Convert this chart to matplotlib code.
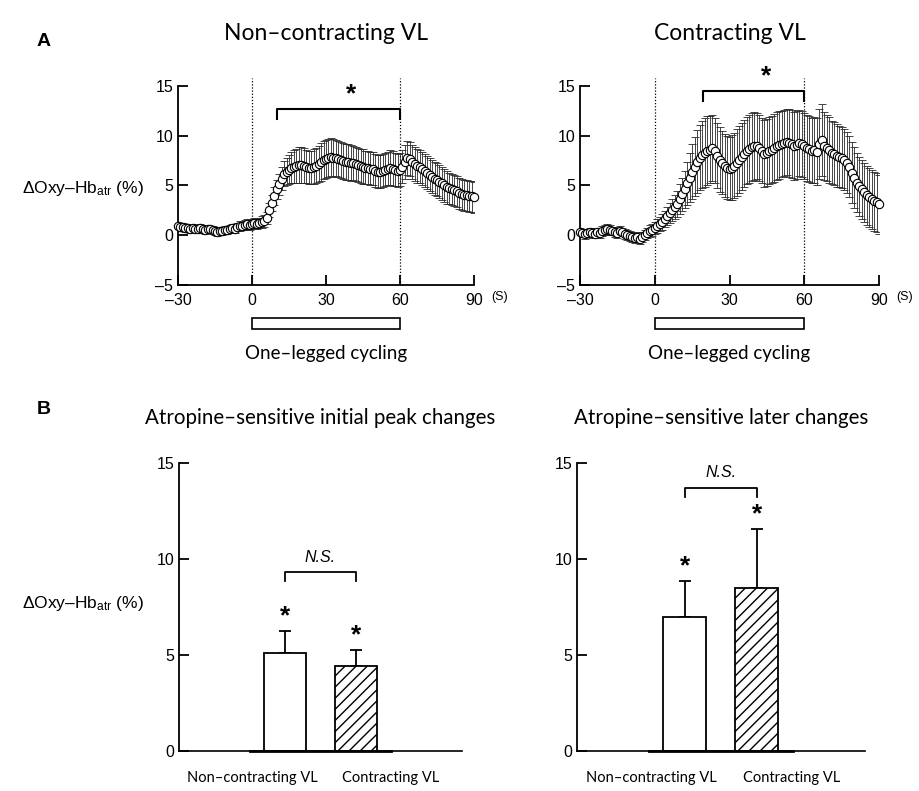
import numpy as np
import matplotlib
matplotlib.use("Agg")
import matplotlib.pyplot as plt
from matplotlib.patches import Rectangle

plt.rcParams['font.family'] = ['Liberation Sans', 'DejaVu Sans']
plt.rcParams['mathtext.fontset'] = 'custom'
plt.rcParams['mathtext.rm'] = 'Liberation Sans'
plt.rcParams['mathtext.it'] = 'Liberation Sans:italic'
plt.rcParams['hatch.linewidth'] = 1.0

# ------------------------------------------
# data
# ------------------------------------------
time_s = np.arange(-30, 91)

noncontr_mean = [
    0.9, 0.8, 0.8, 0.7, 0.7, 0.6, 0.7, 0.6, 0.6, 0.7,
    0.6, 0.5, 0.6, 0.6, 0.5, 0.4, 0.3, 0.4, 0.4, 0.5,
    0.5, 0.6, 0.7, 0.6, 0.8, 0.9, 0.9, 1.0, 1.1, 1.0,
    1.1, 1.2, 1.1, 1.2, 1.3, 1.4, 1.7, 2.5, 3.2, 3.9,
    4.6, 5.1, 5.7, 6.2, 6.4, 6.6, 6.8, 6.9, 7.0, 7.1,
    7.1, 7.0, 6.9, 6.8, 6.8, 6.9, 7.0, 7.2, 7.4, 7.6,
    7.7, 7.8, 7.9, 7.8, 7.8, 7.7, 7.6, 7.5, 7.4, 7.4,
    7.3, 7.3, 7.2, 7.1, 7.0, 6.9, 6.8, 6.8, 6.7, 6.7,
    6.5, 6.4, 6.4, 6.5, 6.6, 6.7, 6.8, 6.7, 6.6, 6.5,
    6.6, 6.9, 7.4, 7.8, 7.7, 7.4, 7.2, 7.0, 6.9, 6.7,
    6.5, 6.3, 6.1, 5.9, 5.7, 5.6, 5.4, 5.2, 5.0, 4.8,
    4.7, 4.6, 4.5, 4.4, 4.2, 4.1, 4.0, 4.0, 3.9, 3.9,
    3.8,
]
noncontr_se = [
    0.4, 0.4, 0.4, 0.4, 0.3, 0.4, 0.4, 0.4, 0.3, 0.4,
    0.4, 0.4, 0.4, 0.3, 0.4, 0.4, 0.4, 0.4, 0.4, 0.4,
    0.4, 0.4, 0.4, 0.4, 0.4, 0.5, 0.4, 0.5, 0.5, 0.5,
    0.5, 0.5, 0.5, 0.5, 0.6, 0.6, 0.6, 0.7, 0.8, 0.9,
    1.0, 1.1, 1.2, 1.3, 1.4, 1.5, 1.6, 1.7, 1.7, 1.8,
    1.8, 1.8, 1.7, 1.7, 1.7, 1.8, 1.8, 1.8, 1.9, 1.9,
    1.9, 1.9, 1.9, 1.9, 1.8, 1.8, 1.8, 1.8, 1.8, 1.8,
    1.8, 1.7, 1.7, 1.7, 1.7, 1.8, 1.7, 1.7, 1.7, 1.7,
    1.7, 1.7, 1.7, 1.7, 1.7, 1.7, 1.8, 1.8, 1.7, 1.7,
    1.7, 1.7, 1.7, 1.7, 1.7, 1.7, 1.7, 1.7, 1.7, 1.7,
    1.7, 1.7, 1.7, 1.7, 1.7, 1.7, 1.7, 1.7, 1.7, 1.7,
    1.6, 1.6, 1.6, 1.6, 1.6, 1.6, 1.6, 1.6, 1.6, 1.6,
    1.6,
]

contr_mean = [
    0.3, 0.2, 0.1, 0.2, 0.3, 0.2, 0.1, 0.3, 0.2, 0.4,
    0.5, 0.6, 0.5, 0.4, 0.3, 0.2, 0.4, 0.3, 0.1, 0.0,
    -0.1, -0.2, -0.3, -0.2, -0.4, -0.2, 0.0, 0.2, 0.4, 0.5,
    0.7, 0.9, 1.1, 1.3, 1.6, 1.9, 2.2, 2.5, 2.8, 3.1,
    3.6, 4.1, 4.6, 5.2, 5.8, 6.4, 6.9, 7.4, 7.8, 8.1,
    8.3, 8.5, 8.6, 8.8, 8.5, 8.0, 7.6, 7.3, 7.0, 6.8,
    6.7, 6.8, 7.0, 7.3, 7.6, 7.9, 8.2, 8.5, 8.7, 8.9,
    9.0, 9.0, 8.8, 8.5, 8.2, 8.3, 8.5, 8.6, 8.8, 9.0,
    9.1, 9.2, 9.3, 9.4, 9.3, 9.2, 9.0, 9.1, 9.3, 9.2,
    9.0, 8.8, 8.7, 8.5, 8.6, 8.4, 9.2, 9.6, 9.0, 8.8,
    8.6, 8.3, 8.2, 8.0, 7.9, 7.8, 7.6, 7.3, 6.9, 6.3,
    5.8, 5.3, 4.9, 4.6, 4.3, 4.0, 3.8, 3.6, 3.4, 3.3,
    3.1,
]
contr_se = [
    0.4, 0.4, 0.5, 0.4, 0.4, 0.5, 0.4, 0.4, 0.5, 0.5,
    0.5, 0.5, 0.5, 0.4, 0.5, 0.5, 0.5, 0.4, 0.5, 0.5,
    0.5, 0.5, 0.5, 0.5, 0.5, 0.5, 0.5, 0.5, 0.6, 0.6,
    0.6, 0.7, 0.7, 0.8, 0.8, 0.9, 1.0, 1.1, 1.2, 1.3,
    1.5, 1.7, 1.9, 2.2, 2.5, 2.8, 3.0, 3.2, 3.3, 3.4,
    3.5, 3.5, 3.4, 3.3, 3.3, 3.3, 3.3, 3.2, 3.2, 3.2,
    3.2, 3.3, 3.3, 3.4, 3.4, 3.4, 3.4, 3.4, 3.4, 3.4,
    3.4, 3.3, 3.3, 3.3, 3.4, 3.4, 3.4, 3.4, 3.4, 3.4,
    3.4, 3.3, 3.3, 3.3, 3.4, 3.4, 3.4, 3.4, 3.3, 3.3,
    3.3, 3.3, 3.3, 3.3, 3.3, 3.4, 3.5, 3.6, 3.4, 3.3,
    3.3, 3.2, 3.2, 3.2, 3.1, 3.1, 3.1, 3.1, 3.1, 3.1,
    3.1, 3.0, 3.0, 3.0, 3.0, 3.0, 3.0, 3.0, 3.0, 3.0,
    3.0,
]

bar_groups = ["Non\u2013contracting VL", "Contracting VL"]
peak_mean = [5.1, 4.45]
peak_se = [1.15, 0.8]
later_mean = [7.0, 8.5]
later_se = [1.85, 3.05]

# ------------------------------------------
# figure
# ------------------------------------------
fig = plt.figure(figsize=(9.19, 7.91), dpi=100)

lato = ['Lato', 'DejaVu Sans']
tick_fs = 11.5
ylab = "\u0394Oxy\u2013Hb$_{\\rm atr}$ (%)"


def style_axes(ax):
    for side in ['top', 'right']:
        ax.spines[side].set_visible(False)
    for side in ['left', 'bottom']:
        ax.spines[side].set_linewidth(1.3)
    ax.tick_params(direction='in', length=7, width=1.3, labelsize=tick_fs)


def time_panel(rect, mean, se, title, bracket_start, bracket_y):
    ax = fig.add_axes(rect)
    style_axes(ax)
    ax.set_xlim(-30, 90)
    ax.set_ylim(-5, 15)
    ax.set_xticks([-30, 0, 30, 60, 90])
    ax.set_xticklabels(["\u201330", "0", "30", "60", "90"])
    ax.set_yticks([-5, 0, 5, 10, 15])
    ax.set_yticklabels(["\u20135", "0", "5", "10", "15"])
    ax.tick_params(axis='x', pad=6)

    for xv in [0, 60]:
        ax.plot([xv, xv], [-5, 15.8], ls=(0, (1, 1.5)), color='black', lw=0.9,
                clip_on=False, zorder=1)

    ax.errorbar(time_s, mean, yerr=se, fmt='none', ecolor='0.15',
                elinewidth=0.6, capsize=3, capthick=0.6, zorder=2)
    ax.plot(time_s, mean, 'o', ms=6, mfc='white', mec='black', mew=0.8,
            zorder=3, clip_on=False)

    # significance bracket
    ax.plot([bracket_start, bracket_start, 60, 60],
            [bracket_y - 1.0, bracket_y, bracket_y, bracket_y - 1.0],
            color='black', lw=1.5, clip_on=False)
    ax.text((bracket_start + 60) / 2 + 5, bracket_y + 0.3, "*", ha='center',
            va='bottom', fontsize=19, fontweight='bold', clip_on=False)

    # cycling bar
    ax.add_patch(Rectangle((0, -9.4), 60, 1.1, fill=False, lw=1.2,
                           clip_on=False))
    ax.text(30, -11.0, "One\u2013legged cycling", ha='center', va='top',
            clip_on=False, family=lato, fontsize=13.5)
    ax.text(97, -5.6, "(S)", ha='left', va='top', fontsize=9)
    ax.set_title(title, pad=33, family=lato, fontsize=16.5)
    return ax


ax1 = time_panel([0.1937, 0.6397, 0.3221, 0.2516], noncontr_mean, noncontr_se,
                 "Non\u2013contracting VL", 10, 12.7)
ax2 = time_panel([0.6311, 0.6397, 0.3254, 0.2516], contr_mean, contr_se,
                 "Contracting VL", 19.5, 14.5)


def bar_panel(rect, means, ses, title, ns_y):
    ax = fig.add_axes(rect)
    style_axes(ax)
    ax.spines['bottom'].set_linewidth(1.2)
    ax.set_xlim(0, 4)
    ax.set_ylim(0, 15)
    ax.set_yticks([0, 5, 10, 15])
    ax.set_xticks([])
    xpos = [1.5, 2.5]
    ax.bar(xpos[0], means[0], width=0.6, color='white', edgecolor='black',
           lw=1.3, zorder=2)
    ax.bar(xpos[1], means[1], width=0.6, color='white', edgecolor='black',
           lw=1.3, hatch='///', zorder=2)
    ax.errorbar(xpos, means, yerr=[[0, 0], ses], fmt='none', ecolor='black',
                elinewidth=1.3, capsize=4, capthick=1.3, zorder=1)
    ax.plot([1.0, 3.0], [0, 0], color='black', lw=2.0, clip_on=False, zorder=3)
    for xv, m, s in zip(xpos, means, ses):
        ax.text(xv, m + s + 0.15, "*", ha='center', va='bottom', fontsize=19,
                fontweight='bold')
    ax.plot([xpos[0], xpos[0], xpos[1], xpos[1]],
            [ns_y - 0.45, ns_y, ns_y, ns_y - 0.45], color='black', lw=1.3)
    ax.text(2.0, ns_y + 0.4, "N.S.", ha='center', va='bottom', fontsize=11.5,
            style='italic')
    ax.text(1.03, -1.05, bar_groups[0], ha='center', va='top',
            family=lato, fontsize=10.5)
    ax.text(2.99, -1.05, bar_groups[1], ha='center', va='top',
            family=lato, fontsize=10.5)
    ax.set_title(title, pad=28, family=lato, fontsize=14.8)
    return ax


ax3 = bar_panel([0.1948, 0.0506, 0.308, 0.3641], peak_mean, peak_se,
                "Atropine\u2013sensitive initial peak changes", 9.3)
ax4 = bar_panel([0.6279, 0.0506, 0.313, 0.3641], later_mean, later_se,
                "Atropine\u2013sensitive later changes", 13.7)

fig.text(0.04, 0.947, "A", fontsize=14, fontweight='bold', va='center')
fig.text(0.04, 0.482, "B", fontsize=14, fontweight='bold', va='center')
fig.text(0.024, 0.762, ylab, fontsize=12.5, va='center')
fig.text(0.024, 0.237, ylab, fontsize=12.5, va='center')

fig.savefig("out.png", dpi=100)
